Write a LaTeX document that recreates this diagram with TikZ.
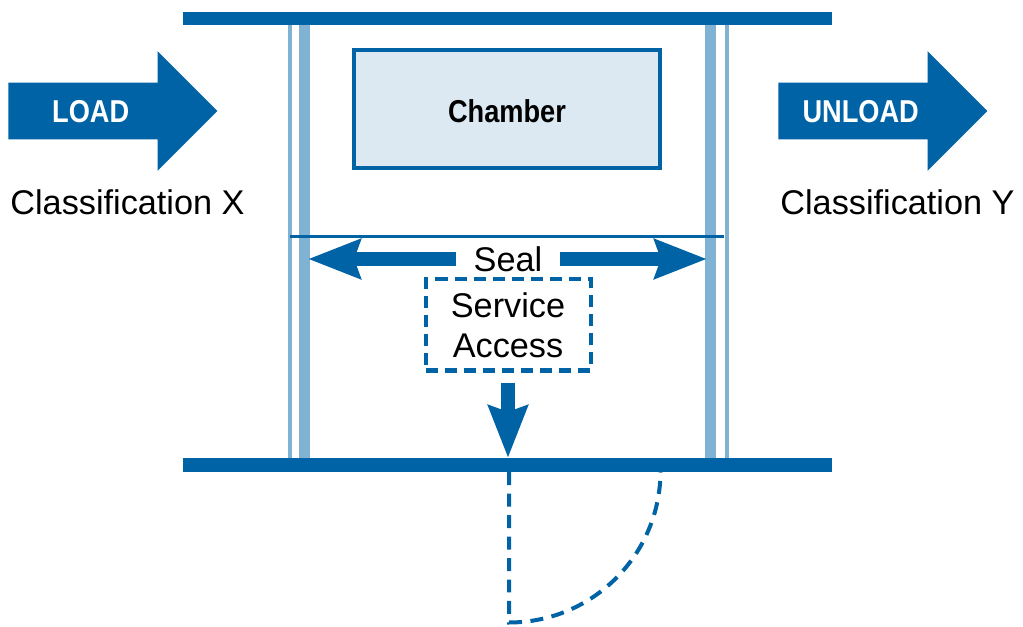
\documentclass[tikz,border=0pt]{standalone}
\usepackage{fontspec}
\setmainfont{Liberation Sans}
\newfontfamily\condsf[FakeStretch=0.86]{Liberation Sans}
\usepackage{tikz}
\usetikzlibrary{arrows.meta,positioning,shapes.arrows,calc}

\definecolor{plantblue}{RGB}{0,99,166}
\definecolor{wallblue}{RGB}{128,178,212}
\definecolor{chamberfill}{RGB}{220,232,242}

\begin{document}
\begin{tikzpicture}[
  flow/.style={single arrow, fill=plantblue, draw=none, text=white,
               text width=3.6cm, align=center, inner xsep=0pt, inner ysep=0pt,
               text height=0.787cm, text depth=0.333cm,
               single arrow head extend=0.63cm,
               font=\condsf\bfseries\fontsize{18}{21}\selectfont},
  lbl/.style={inner sep=0pt, font=\fontsize{19.5}{23}\selectfont},
  fatarrow/.style={plantblue, line width=0.27cm,
                   -{Stealth[length=1.04cm, width=0.77cm, inset=0.12cm]}},
  door/.style={plantblue, line width=0.08cm, dash pattern=on 0.26cm off 0.17cm}
]
\useasboundingbox (0,0) rectangle (20.46,12.52);

% side walls
\fill[wallblue] (5.76,3.36) rectangle (5.84,12.02);
\fill[wallblue] (5.985,3.36) rectangle (6.205,12.02);
\fill[wallblue] (14.10,3.36) rectangle (14.32,12.02);
\fill[wallblue] (14.49,3.36) rectangle (14.57,12.02);

% floor and ceiling
\fill[plantblue] (3.66,12.02) rectangle (16.64,12.28);
\fill[plantblue] (3.66,3.08) rectangle (16.64,3.36);

% seal line
\draw[plantblue, line width=0.07cm] (5.80,7.79) -- (14.48,7.79);

\node[draw=plantblue, line width=0.08cm, fill=chamberfill,
      minimum width=6.12cm, minimum height=2.36cm, text height=0.56cm,
      font=\condsf\bfseries\fontsize{18}{21}\selectfont] (chamber) at (10.14,10.34) {Chamber};

\node[flow, anchor=tail] (load) at (0.16,10.30) {LOAD\hspace*{0.32cm}};
\node[flow, anchor=tail] (unload) at (15.56,10.30) {UNLOAD\hspace*{0.32cm}};
\node[lbl, anchor=base west] (clsx) at ($(load.tail)+(0.04,-2.08)$) {Classification X};
\node[lbl, anchor=base west] (clsy) at ($(unload.tail)+(0.04,-2.08)$) {Classification Y};

\node[lbl, inner xsep=0.354cm] (seal) at (10.16,7.34) {Seal};
\node[lbl, draw=plantblue, line width=0.08cm, dash pattern=on 0.24cm off 0.14cm,
      minimum width=3.30cm, minimum height=1.82cm, align=center,
      font=\fontsize{19.5}{22.8}\selectfont] (service) at (10.16,6.02) {Service\\Access};

\coordinate (lstop) at (6.16,7.34);
\coordinate (rstop) at (14.14,7.34);
\coordinate (hinge) at (10.16,3.36);

\draw[fatarrow] (seal.west) -- (lstop);
\draw[fatarrow] (seal.east) -- (rstop);
\draw[fatarrow, shorten <=0.2cm] (service.south) -- (hinge);

% swing of the access door
\draw[door] (10.18,3.08) -- (10.18,0.07) arc[start angle=-90, end angle=0, radius=3.03cm];
\end{tikzpicture}
\end{document}
